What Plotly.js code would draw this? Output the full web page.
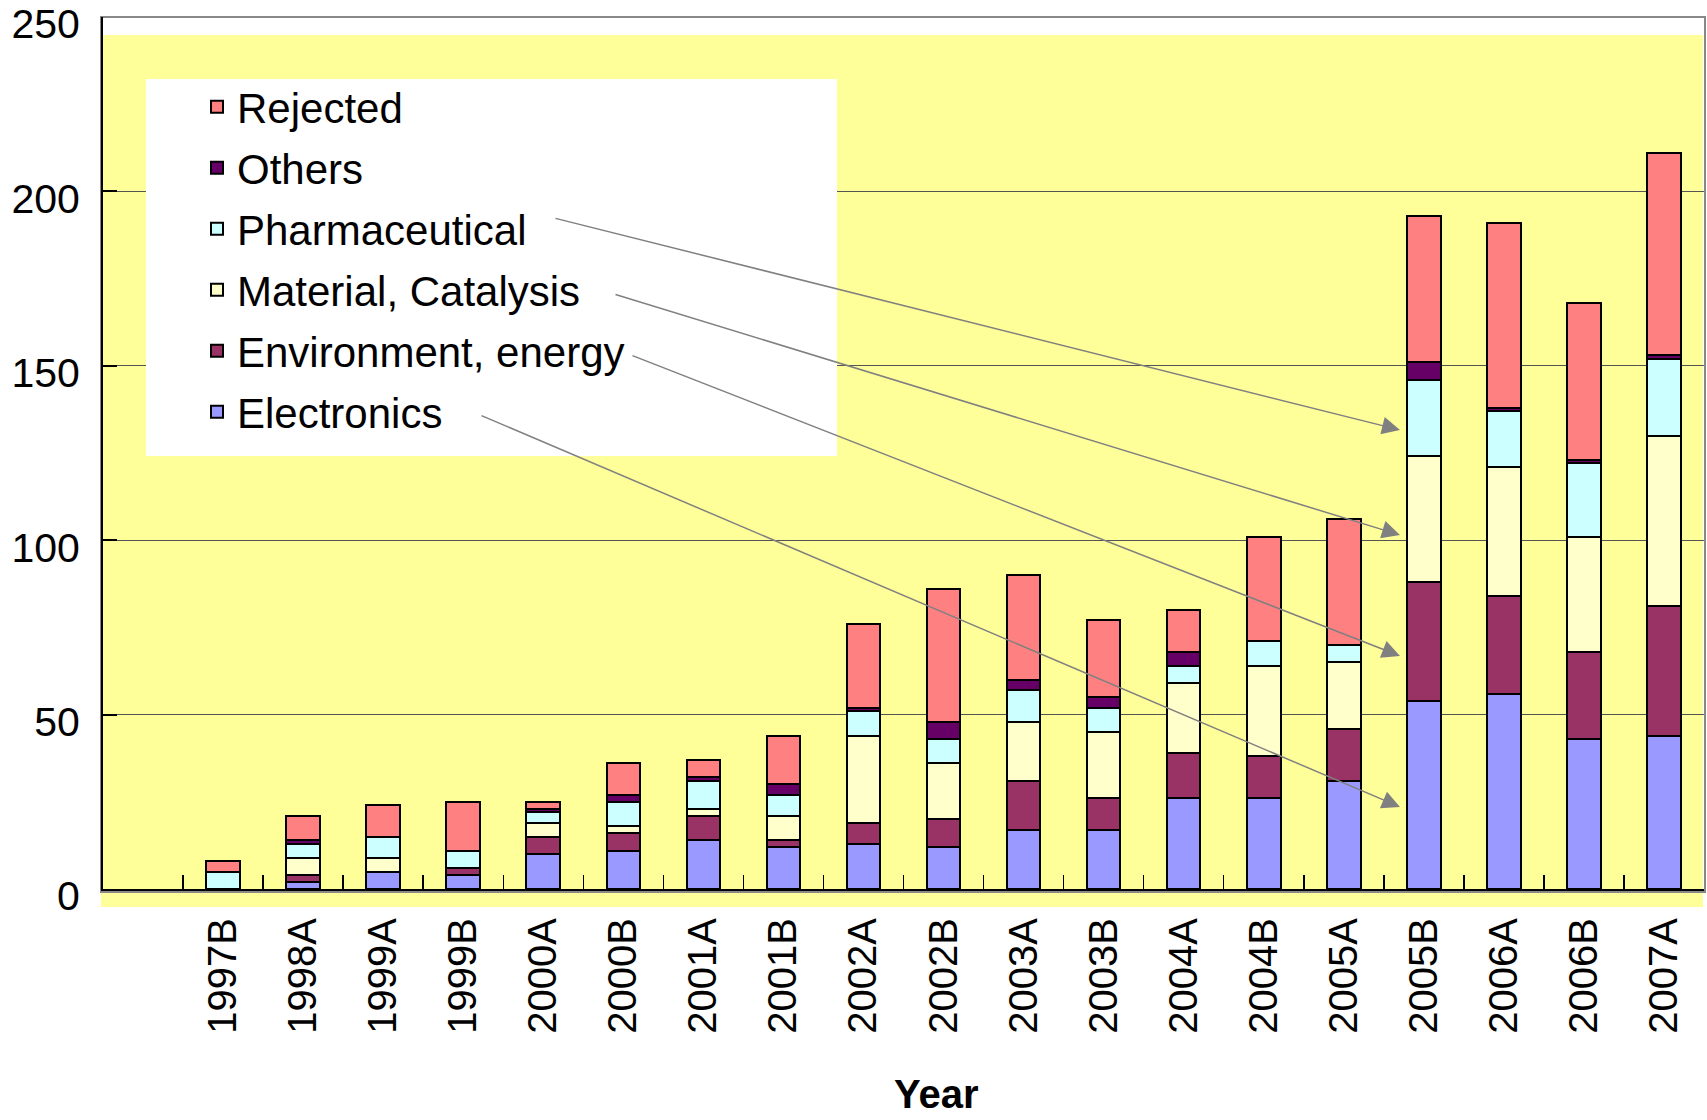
<!DOCTYPE html>
<html>
<head>
<meta charset="utf-8">
<script src="https://cdn.plot.ly/plotly-3.0.1.min.js"></script>
<style>html,body{margin:0;padding:0;background:#fff;}#chart{width:1707px;height:1120px;}</style>
</head>
<body>
<div id="chart"></div>
<script>
// ---- data ----
const categories = ['1997B','1998A','1999A','1999B','2000A','2000B','2001A','2001B','2002A','2002B','2003A','2003B','2004A','2004B','2005A','2005B','2006A','2006B','2007A'];
const electronics   = [0, 2, 5, 4, 10, 11, 14, 12, 13, 12, 17, 17, 26, 26, 31, 54, 56, 43, 44];
const environment   = [0, 2, 0, 2, 5, 5, 7, 2, 6, 8, 14, 9, 13, 12, 15, 34, 28, 25, 37];
const material      = [0, 5, 4, 0, 4, 2, 2, 7, 25, 16, 17, 19, 20, 26, 19, 36, 37, 33, 49];
const pharmaceutical= [5, 4, 6, 5, 3, 7, 8, 6, 7, 7, 9, 7, 5, 7, 5, 22, 16, 21, 22];
const others        = [0, 1, 0, 0, 1, 2, 1, 3, 1, 5, 3, 3, 4, 0, 0, 5, 1, 1, 1];
const rejected      = [3, 7, 9, 14, 2, 9, 5, 14, 24, 38, 30, 22, 12, 30, 36, 42, 53, 45, 58];
const seriesNames = ['Electronics', 'Environment, energy', 'Material, Catalysis', 'Pharmaceutical', 'Others', 'Rejected'];
const yTicks = [0, 50, 100, 150, 200, 250];

const seriesValues = [electronics, environment, material, pharmaceutical, others, rejected];
const colors = ['#9999FF', '#993366', '#FFFFCC', '#CCFFFF', '#660066', '#FF8080'];
const FONT = 'Liberation Sans, Arial, sans-serif';

const traces = seriesNames.map((name, i) => ({
  type: 'bar',
  name: name,
  x: categories,
  y: seriesValues[i],
  legendgroup: 'g' + i,
  legendrank: (seriesNames.length - i) * 10,
  marker: {color: colors[i], line: {color: '#000', width: 2}},
  hoverinfo: 'x+y+name'
}));

// plot area in pixels
const L = 103, R = 3, T = 17, B = 231;
const W = 1707, H = 1120;
const pw = W - L - R, ph = H - T - B;
const px = v => (v - L) / pw;          // pixel x -> paper
const py = v => (H - B - v) / ph;      // pixel y -> paper

const arrows = [
  {sx: 554, sy: 218, tx: 1400, ty: 430},
  {sx: 614, sy: 294, tx: 1400, ty: 535},
  {sx: 631, sy: 355, tx: 1400, ty: 656},
  {sx: 480, sy: 415, tx: 1400, ty: 807}
];

const annotations = arrows.map(a => ({
  xref: 'paper', yref: 'paper', x: px(a.tx), y: py(a.ty),
  axref: 'pixel', ayref: 'pixel', ax: a.sx - a.tx, ay: a.sy - a.ty,
  text: '', showarrow: true, arrowhead: 2, arrowsize: 2.4, arrowwidth: 1.5,
  arrowcolor: '#808080', font: {size: 1}
}));
annotations.push({
  xref: 'paper', yref: 'paper', x: px(936), y: py(1094),
  xanchor: 'center', yanchor: 'middle', showarrow: false,
  text: '<b>Year</b>', font: {family: FONT, size: 40, color: '#000'}
});

const layout = {
  width: W, height: H,
  margin: {l: L, r: R, t: T, b: B, pad: 0},
  paper_bgcolor: '#ffffff',
  plot_bgcolor: 'rgba(0,0,0,0)',
  barmode: 'stack',
  bargap: 0.58,
  font: {family: FONT, color: '#000'},
  xaxis: {
    type: 'category',
    range: [-1.5, 18.5],
    tickangle: -90,
    tickfont: {family: FONT, size: 40, color: '#000'},
    ticks: 'inside', ticklen: 14, tickwidth: 1.5, tickcolor: '#000',
    tickson: 'boundaries',
    ticklabelstandoff: 11,
    showgrid: false,
    showline: true, linecolor: '#000', linewidth: 2,
    zeroline: false,
    fixedrange: true
  },
  yaxis: {
    range: [0, 250],
    tickvals: yTicks,
    ticktext: yTicks.map(String),
    tickfont: {family: FONT, size: 41, color: '#000'},
    ticks: 'inside', ticklen: 14, tickwidth: 2, tickcolor: '#000',
    ticklabelstandoff: 13,
    ticklabelshift: 7,
    ticklabeloverflow: 'allow',
    showgrid: true, gridcolor: '#555555', gridwidth: 1.2,
    showline: true, linecolor: '#000', linewidth: 2,
    zeroline: false,
    fixedrange: true
  },
  legend: {
    x: px(197), y: py(73), xanchor: 'left', yanchor: 'top',
    bgcolor: 'rgba(0,0,0,0)', borderwidth: 0,
    font: {family: FONT, size: 42, color: '#000'},
    traceorder: 'grouped',
    tracegroupgap: 3.4,
    itemwidth: 30
  },
  shapes: [
    {type: 'rect', xref: 'paper', yref: 'paper', layer: 'below',
     x0: px(101), x1: px(1703), y0: py(907), y1: py(35),
     fillcolor: '#FFFF99', line: {width: 0}},
    {type: 'rect', xref: 'paper', yref: 'paper', layer: 'below',
     x0: px(101), x1: px(1705), y0: py(892), y1: 1,
     fillcolor: 'rgba(0,0,0,0)', line: {color: '#888888', width: 2}},
    {type: 'rect', xref: 'paper', yref: 'paper', layer: 'above',
     x0: px(146), x1: px(837), y0: py(456), y1: py(79),
     fillcolor: '#FFFFFF', line: {width: 0}}
  ],
  annotations: annotations
};

Plotly.newPlot('chart', traces, layout, {displayModeBar: false, staticPlot: true});
</script>
</body>
</html>
